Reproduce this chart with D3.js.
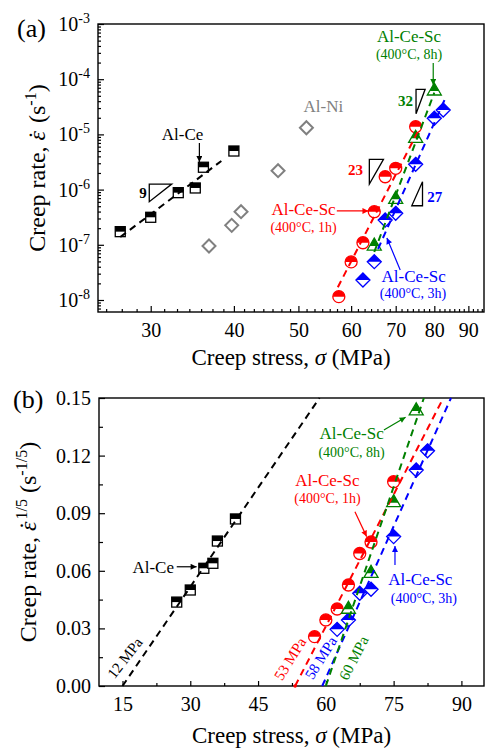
<!DOCTYPE html>
<html lang="en">
<head>
<meta charset="UTF-8">
<title>Creep rate vs creep stress</title>
<script src="https://d3js.org/d3.v7.min.js"></script>
<style>
  body { margin: 0; background: #fff; }
  svg { display: block; }
  svg text { font-family: "Liberation Serif", "Times New Roman", Times, serif; }
</style>
</head>
<body>
<svg id="chart" width="486" height="751"></svg>
<script>
// ---- values ----
// (a) minimum creep rate (1/s) against stress (MPa), log-log
const alCeStress = [27, 30, 33, 35, 36, 40];
const alCeRate   = [1.73e-7, 3.15e-7, 8.8e-7, 1.07e-6, 2.54e-6, 5.0e-6];
const alNiStress = [36.7, 39.7, 41, 46.6, 51.4];
const alNiRate   = [9.5e-8, 2.25e-7, 3.98e-7, 2.2e-6, 1.32e-5];
const sc1hStress = [57.5, 60, 62.5, 65, 67.5, 70, 75];
const sc1hRate   = [1.15e-8, 4.9e-8, 1.09e-7, 3.98e-7, 1.71e-6, 2.43e-6, 1.38e-5];
const sc3hStress = [62.5, 65, 67.5, 70, 75, 80, 82.5];
const sc3hRate   = [2.3e-8, 4.94e-8, 2.81e-7, 3.72e-7, 2.87e-6, 1.96e-5, 2.77e-5];
const sc8hStress = [65, 70, 75, 80];
const sc8hRate   = [9.9e-8, 6.95e-7, 8.85e-6, 6.37e-5];

// (b) creep rate^(1/5)
const alCeRoot = [0.0437, 0.050, 0.0613, 0.0639, 0.0755, 0.087];
const sc1hRoot = [0.0257, 0.0344, 0.0401, 0.0526, 0.069, 0.075, 0.1064];
const sc3hRoot = [0.0295, 0.0344, 0.0483, 0.0504, 0.0778, 0.1125, 0.1225];
const sc8hRoot = [0.0405, 0.0592, 0.096, 0.1438];

// fitted lines, end points [stress, value]
const alCeFitA = [[27.0, 1.38e-7], [38.3, 3.3e-6]];
const sc1hFitA = [[57.3, 1.7e-8], [75.5, 1.1e-5]];
const sc3hFitA = [[65.85, 8.4e-8], [83.0, 4.38e-5]];
const sc8hFitA = [[65.0, 7.4e-8], [80.0, 5.7e-5]];
const alCeFitB = [[15.0, 0], [58.6, 0.15]];
const sc1hFitB = [[53.2, 0], [86.0, 0.15]];
const sc3hFitB = [[59.2, 0], [87.7, 0.15]];
const sc8hFitB = [[60.0, 0], [81.7, 0.15]];

const slopeLabels = ["9", "23", "27", "32"];
const thresholdLabels = ["12 MPa", "53 MPa", "58 MPa", "60 MPa"];
const thresholdStress = 53.2;

// ticks
const xTicksA = [30, 40, 50, 60, 70, 80, 90];
const yTicksA = [1e-8, 1e-7, 1e-6, 1e-5, 1e-4, 1e-3];
const xTicksB = [15, 30, 45, 60, 75, 90];
const yTicksB = [0, 0.03, 0.06, 0.09, 0.12, 0.15];

// ---- drawing ----
const FONT = "Liberation Serif, Times New Roman, serif";
const svg = d3.select("#chart").attr("font-family", FONT);
const RED = "#ff0000", GREEN = "#008000", BLUE = "#0000ff", GRAY = "#808080";

const A = { left: 98, right: 484, top: 24, bottom: 312 };
const B = { left: 99, right: 484, top: 398, bottom: 686 };

const xa = d3.scaleLog().domain([25, 95]).range([A.left, A.right]);
const ya = d3.scaleLog().domain([6.06e-9, 1e-3]).range([A.bottom, A.top]);
const xb = d3.scaleLinear().domain([9.8, 95]).range([B.left, B.right]);
const yb = d3.scaleLinear().domain([0, 0.15]).range([B.bottom, B.top]);

// minor tick values
const xMinorA = [];
for (let t = 20; t < 95; t += 10) {
  for (let k = 1; k < 7; k++) {
    const v = t + k * 10 / 7;
    if (v > 25 && v < 95) xMinorA.push(v);
  }
}
const yMinorA = [];
for (let e = -9; e <= -4; e++) {
  for (let m = 2; m <= 9; m++) {
    const v = m * Math.pow(10, e);
    if (v > 6.06e-9 && v < 1e-3) yMinorA.push(v);
  }
}
const xMinorB = [];
for (let v = 7.5; v < 95; v += 15) if (v > 9.8) xMinorB.push(v);
const yMinorB = [];
for (let v = 0.015; v < 0.15; v += 0.03) yMinorB.push(v);

// arrowheads
const defs = svg.append("defs");
[["k", "#000"], ["r", RED], ["g", GREEN], ["b", BLUE]].forEach(([id, c]) => {
  defs.append("marker")
    .attr("id", "ah-" + id)
    .attr("viewBox", "0 0 10 10")
    .attr("refX", 10).attr("refY", 5)
    .attr("markerWidth", 7).attr("markerHeight", 6)
    .attr("markerUnits", "userSpaceOnUse")
    .attr("orient", "auto")
    .append("path").attr("d", "M0,0L10,5L0,10Z").attr("fill", c);
});
const arrowId = { "#000": "ah-k" };
arrowId[RED] = "ah-r"; arrowId[GREEN] = "ah-g"; arrowId[BLUE] = "ah-b";

// text with italic / superscript pieces; p.dot puts a dot over the glyph
function rich(text, parts, shiftPx) {
  let shift = 0;
  parts.forEach(p => {
    const ts = text.append("tspan").text(p.t);
    if (p.i) ts.attr("font-style", "italic");
    let target = p.sup ? -shiftPx : 0;
    if (p.dot) target = -p.dot;
    if (target !== shift) { ts.attr("dy", target - shift); shift = target; }
    if (p.sup) ts.attr("font-size", p.size);
    if (p.dx) ts.attr("dx", p.dx);
  });
}

function styleAxis(g, size) {
  g.select(".domain").remove();
  g.selectAll("line").attr("stroke", "#000").attr("stroke-width", 1.2);
  g.selectAll("text").attr("font-family", FONT).attr("font-size", size).attr("fill", "#000");
  g.attr("font-family", FONT).attr("font-size", null);
}

// half-filled symbols
function drawSymbols(g, xs, ys, xScale, yScale, shape, color) {
  const s = g.append("g");
  xs.forEach((xv, i) => {
    const m = s.append("g").attr("transform", `translate(${xScale(xv)},${yScale(ys[i])})`);
    if (shape === "square") {
      m.append("rect").attr("x", -5).attr("y", -5).attr("width", 10).attr("height", 10)
        .attr("fill", "#fff").attr("stroke", color).attr("stroke-width", 1.3);
      m.append("rect").attr("x", -5).attr("y", -5).attr("width", 10).attr("height", 5).attr("fill", color);
    } else if (shape === "circle") {
      m.append("circle").attr("r", 6).attr("fill", "#fff").attr("stroke", color).attr("stroke-width", 1.3);
      m.append("path").attr("d", "M-6,0A6,6 0 0 1 6,0Z").attr("fill", color);
    } else if (shape === "triangle") {
      m.append("path").attr("d", "M0,-7L7,5L-7,5Z").attr("fill", "#fff")
        .attr("stroke", color).attr("stroke-width", 1.3);
      m.append("path").attr("d", "M0,-7L4.7,1L-4.7,1Z").attr("fill", color);
    } else if (shape === "diamond") {
      m.append("path").attr("d", "M0,-7L7,0L0,7L-7,0Z").attr("fill", "#fff")
        .attr("stroke", color).attr("stroke-width", 1.3);
      m.append("path").attr("d", "M0,-7L7,0L-7,0Z").attr("fill", color);
    } else if (shape === "open-diamond") {
      m.append("path").attr("d", "M0,-6.5L6.5,0L0,6.5L-6.5,0Z").attr("fill", "#fff")
        .attr("stroke", color).attr("stroke-width", 2);
    }
  });
}

function drawFit(g, pts, xScale, yScale, color) {
  g.append("path")
    .attr("d", d3.line().x(d => xScale(d[0])).y(d => yScale(d[1]))(pts))
    .attr("fill", "none").attr("stroke", color)
    .attr("stroke-width", 2).attr("stroke-dasharray", "7,5");
}

function drawArrow(g, from, to, xScale, yScale, color) {
  g.append("line")
    .attr("x1", xScale(from[0])).attr("y1", yScale(from[1]))
    .attr("x2", xScale(to[0])).attr("y2", yScale(to[1]))
    .attr("stroke", color).attr("stroke-width", 1.2)
    .attr("marker-end", `url(#${arrowId[color]})`);
}

function label(g, x, y, str, color, size, weight) {
  return g.append("text").attr("x", x).attr("y", y).attr("text-anchor", "middle")
    .attr("fill", color).attr("font-size", size).attr("font-weight", weight || "normal").text(str);
}

// "ε" with a dot above, as used in the rotated axis titles
const epsDot = [{ t: "ε", i: true }, { t: "˙", dx: -8, dot: 0 }];

// ================= panel (a) =================
const gA = svg.append("g");

gA.append("g").attr("transform", `translate(0,${A.bottom})`)
  .call(d3.axisBottom(xa).tickValues(xMinorA).tickSize(-3).tickFormat(""))
  .call(g => styleAxis(g, 20));
gA.append("g").attr("transform", `translate(0,${A.bottom})`)
  .call(d3.axisBottom(xa).tickValues(xTicksA).tickSize(-6).tickPadding(11).tickFormat(d3.format("d")))
  .call(g => styleAxis(g, 20));
gA.append("g").attr("transform", `translate(${A.left},0)`)
  .call(d3.axisLeft(ya).tickValues(yMinorA).tickSize(-3).tickFormat(""))
  .call(g => styleAxis(g, 20));
gA.append("g").attr("transform", `translate(${A.left},0)`)
  .call(d3.axisLeft(ya).tickValues(yTicksA).tickSize(-6).tickFormat(""))
  .call(g => styleAxis(g, 20));

yTicksA.forEach(v => {
  const t = gA.append("text").attr("x", A.left - 8).attr("y", ya(v) + 7)
    .attr("text-anchor", "end").attr("font-size", 20);
  rich(t, [{ t: "10" }, { t: String(Math.round(Math.log10(v))), sup: true, size: 14 }], 8);
});

gA.append("rect").attr("x", A.left).attr("y", A.top)
  .attr("width", A.right - A.left).attr("height", A.bottom - A.top)
  .attr("fill", "none").attr("stroke", "#000").attr("stroke-width", 1.4);

// symbols
drawSymbols(gA, alNiStress, alNiRate, xa, ya, "open-diamond", GRAY);
drawSymbols(gA, alCeStress, alCeRate, xa, ya, "square", "#000");
drawSymbols(gA, sc1hStress, sc1hRate, xa, ya, "circle", RED);
drawSymbols(gA, sc3hStress, sc3hRate, xa, ya, "diamond", BLUE);
drawSymbols(gA, sc8hStress, sc8hRate, xa, ya, "triangle", GREEN);

// fits
drawFit(gA, alCeFitA, xa, ya, "#000");
drawFit(gA, sc1hFitA, xa, ya, RED);
drawFit(gA, sc8hFitA, xa, ya, GREEN);
drawFit(gA, sc3hFitA, xa, ya, BLUE);

// slope triangles
const slopeTris = [
  { pts: [[29.85, 1.26e-6], [32.26, 1.26e-6], [29.85, 6.04e-7]], lab: [29.2, 7.05e-7], color: "#000" },
  { pts: [[63.9, 3.54e-6], [67.1, 3.54e-6], [63.9, 1.26e-6]], lab: [60.9, 1.84e-6], color: RED },
  { pts: [[74.0, 5.1e-7], [76.8, 5.1e-7], [76.8, 1.39e-6]], lab: [80.1, 5.96e-7], color: BLUE },
  { pts: [[75.1, 6.56e-5], [77.5, 6.56e-5], [75.1, 2.36e-5]], lab: [72.4, 3.27e-5], color: GREEN }
];
slopeTris.forEach((s, i) => {
  gA.append("path")
    .attr("d", d3.line().x(d => xa(d[0])).y(d => ya(d[1]))(s.pts) + "Z")
    .attr("fill", "none").attr("stroke", "#000").attr("stroke-width", 1.3);
  label(gA, xa(s.lab[0]), ya(s.lab[1]), slopeLabels[i], s.color, 15, "bold");
});

// series labels and arrows
label(gA, xa(33.5), ya(7.92e-6), "Al-Ce", "#000", 17);
drawArrow(gA, [35.5, 6.99e-6], [35.5, 3.16e-6], xa, ya, "#000");
label(gA, xa(54.5), ya(2.58e-5), "Al-Ni", GRAY, 17);
label(gA, xa(73.3), ya(4.72e-4), "Al-Ce-Sc", GREEN, 17);
label(gA, xa(73.3), ya(2.32e-4), "(400°C, 8h)", GREEN, 14);
drawArrow(gA, [79.7, 1.97e-4], [79.7, 7.85e-5], xa, ya, GREEN);
label(gA, xa(50.9), ya(3.47e-7), "Al-Ce-Sc", RED, 17);
label(gA, xa(50.9), ya(1.73e-7), "(400°C, 1h)", RED, 14);
drawArrow(gA, [57.1, 4.1e-7], [63.7, 4.1e-7], xa, ya, RED);
label(gA, xa(74.5), ya(2.15e-8), "Al-Ce-Sc", BLUE, 17);
label(gA, xa(74.3), ya(1.09e-8), "(400°C, 3h)", BLUE, 14);
drawArrow(gA, [71.1, 3.5e-8], [67.9, 1.33e-7], xa, ya, BLUE);

// titles
gA.append("text").attr("x", 17).attr("y", 37).attr("font-size", 26).text("(a)");
rich(gA.append("text").attr("x", (A.left + A.right) / 2).attr("y", 365)
  .attr("text-anchor", "middle").attr("font-size", 23),
  [{ t: "Creep stress, " }, { t: "σ", i: true }, { t: " (MPa)" }], 0);
rich(gA.append("text").attr("transform", `translate(45,${(A.top + A.bottom) / 2}) rotate(-90)`)
  .attr("text-anchor", "middle").attr("font-size", 24),
  [{ t: "Creep rate, " }].concat(epsDot,
   [{ t: " (s", dx: 2 }, { t: "-1", sup: true, size: 16 }, { t: ")" }]), 9);

// ================= panel (b) =================
const gB = svg.append("g");

gB.append("g").attr("transform", `translate(0,${B.bottom})`)
  .call(d3.axisBottom(xb).tickValues(xMinorB).tickSize(-3).tickFormat(""))
  .call(g => styleAxis(g, 20));
gB.append("g").attr("transform", `translate(0,${B.bottom})`)
  .call(d3.axisBottom(xb).tickValues(xTicksB).tickSize(-5).tickPadding(11).tickFormat(d3.format("d")))
  .call(g => styleAxis(g, 20));
gB.append("g").attr("transform", `translate(${B.left},0)`)
  .call(d3.axisLeft(yb).tickValues(yMinorB).tickSize(-4).tickFormat(""))
  .call(g => styleAxis(g, 20));
gB.append("g").attr("transform", `translate(${B.left},0)`)
  .call(d3.axisLeft(yb).tickValues(yTicksB).tickSize(-6).tickPadding(8).tickFormat(d3.format(".2f")))
  .call(g => styleAxis(g, 20));

gB.append("rect").attr("x", B.left).attr("y", B.top)
  .attr("width", B.right - B.left).attr("height", B.bottom - B.top)
  .attr("fill", "none").attr("stroke", "#000").attr("stroke-width", 1.4);

drawSymbols(gB, alCeStress, alCeRoot, xb, yb, "square", "#000");
drawSymbols(gB, sc1hStress, sc1hRoot, xb, yb, "circle", RED);
drawSymbols(gB, sc3hStress, sc3hRoot, xb, yb, "diamond", BLUE);
drawSymbols(gB, sc8hStress, sc8hRoot, xb, yb, "triangle", GREEN);

drawFit(gB, alCeFitB, xb, yb, "#000");
drawFit(gB, sc1hFitB, xb, yb, RED);
drawFit(gB, sc3hFitB, xb, yb, BLUE);
drawFit(gB, sc8hFitB, xb, yb, GREEN);

gB.append("circle").attr("cx", xb(thresholdStress)).attr("cy", yb(0)).attr("r", 1.8).attr("fill", RED);

// threshold stress labels, rotated along the lines
const thrPos = [
  { p: [15.55, 0.0146], a: -52, color: "#000" },
  { p: [52.1, 0.0141], a: -58, color: RED },
  { p: [58.9, 0.0146], a: -58, color: BLUE },
  { p: [66.2, 0.0146], a: -63, color: GREEN }
];
thrPos.forEach((d, i) => {
  gB.append("text")
    .attr("transform", `translate(${xb(d.p[0])},${yb(d.p[1])}) rotate(${d.a})`)
    .attr("text-anchor", "middle").attr("dominant-baseline", "central")
    .attr("font-size", 15).attr("fill", d.color).text(thresholdLabels[i]);
});

label(gB, xb(26.4), yb(0.0587), "Al-Ce", "#000", 17).attr("text-anchor", "end");
drawArrow(gB, [27.0, 0.0621], [31.4, 0.0621], xb, yb, "#000");
label(gB, xb(65.7), yb(0.1285), "Al-Ce-Sc", GREEN, 17);
label(gB, xb(65.7), yb(0.1194), "(400°C, 8h)", GREEN, 14);
drawArrow(gB, [72.85, 0.1333], [77.65, 0.140], xb, yb, GREEN);
label(gB, xb(60.35), yb(0.1042), "Al-Ce-Sc", RED, 17);
label(gB, xb(60.35), yb(0.0955), "(400°C, 1h)", RED, 14);
drawArrow(gB, [66.44, 0.0908], [69.03, 0.0778], xb, yb, RED);
label(gB, xb(80.9), yb(0.0526), "Al-Ce-Sc", BLUE, 17);
label(gB, xb(81.7), yb(0.0431), "(400°C, 3h)", BLUE, 14);
drawArrow(gB, [75.3, 0.063], [75.3, 0.0729], xb, yb, BLUE);

gB.append("text").attr("x", 13).attr("y", 408).attr("font-size", 26).text("(b)");
rich(gB.append("text").attr("x", (B.left + B.right) / 2).attr("y", 743)
  .attr("text-anchor", "middle").attr("font-size", 23),
  [{ t: "Creep stress, " }, { t: "σ", i: true }, { t: " (MPa)" }], 0);
rich(gB.append("text").attr("transform", `translate(36,${(B.top + B.bottom) / 2}) rotate(-90)`)
  .attr("text-anchor", "middle").attr("font-size", 24),
  [{ t: "Creep rate, " }].concat(epsDot,
   [{ t: "1/5", sup: true, size: 16, dx: 2 }, { t: " (s" }, { t: "-1/5", sup: true, size: 16 }, { t: ")" }]), 9);
</script>
</body>
</html>
